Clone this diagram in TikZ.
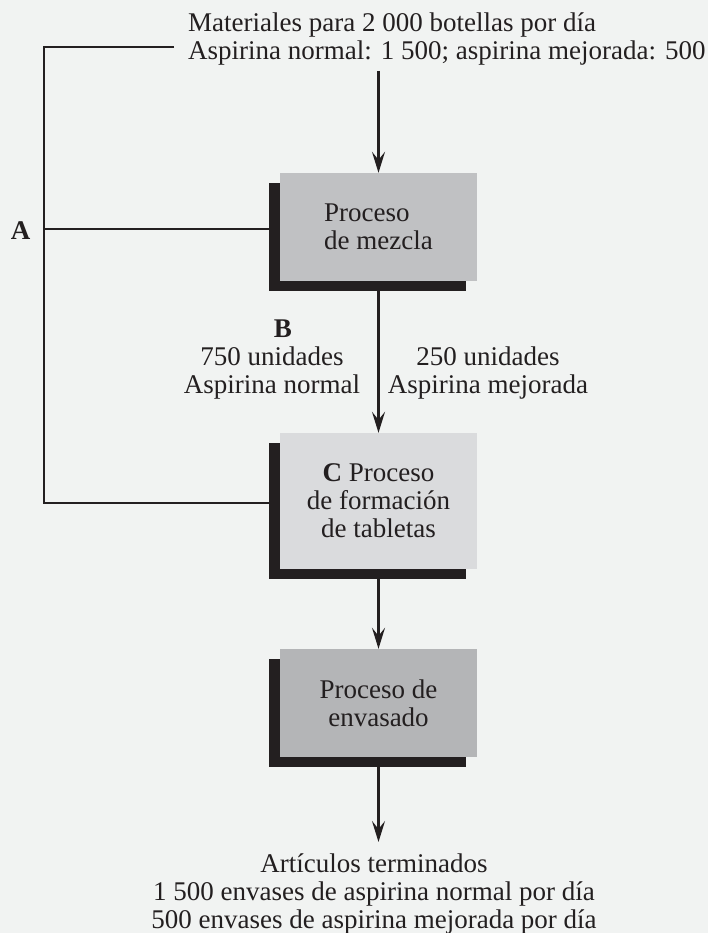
\documentclass[tikz,border=0pt]{standalone}
\usepackage{fontspec}
\setmainfont{Liberation Serif}
\usetikzlibrary{arrows.meta}
\definecolor{bg}{HTML}{F1F3F2}
\definecolor{ink}{HTML}{231F20}
\definecolor{graya}{HTML}{C0C1C3}
\definecolor{grayb}{HTML}{DADBDD}
\definecolor{grayc}{HTML}{B4B5B7}
\tikzset{
  txt/.style={font=\fontsize{27}{28}\selectfont, text=ink, inner sep=0pt},
  shadowbox/.style={fill=ink, draw=none, minimum width=197pt, inner sep=0pt},
  procbox/.style={txt, draw=none, minimum width=197pt, align=center},
  conn/.style={draw=ink, line width=2.6pt, line join=miter},
  arr/.style={draw=ink, line width=2.3pt, -{Stealth[length=21pt,width=13pt,inset=8pt]}},
}
\begin{document}
\begin{tikzpicture}[x=1pt,y=-1pt]
\useasboundingbox[fill=bg] (0,0) rectangle (708,933);
% shadows
\node[shadowbox, minimum height=108pt] (s1) at (367.5,237) {};
\node[shadowbox, minimum height=136pt] (s2) at (367.5,511) {};
\node[shadowbox, minimum height=108pt] (s3) at (367.5,713) {};
% process boxes
\node[procbox, fill=graya, minimum height=108pt, align=left] (g1) at (378.5,227) {Proceso\\de mezcla};
\node[procbox, fill=grayb, minimum height=136pt] (g2) at (378.5,501) {\textbf{C} Proceso\\de formación\\de tabletas};
\node[procbox, fill=grayc, minimum height=108pt] (g3) at (378.5,703) {Proceso de\\envasado};
% texts
\node[txt, align=left, anchor=base west] (top) at (188,60) {Materiales para 2 000 botellas por día\\Aspirina normal: 1 500; aspirina mejorada: 500};
\node[txt, font=\fontsize{27}{28}\bfseries] (A) at (20.5,231) {A};
\node[txt, font=\fontsize{27}{28}\bfseries, anchor=base] (B) at (283,337) {B};
\node[txt, align=center, anchor=base] (bl) at (272,393) {750 unidades\\Aspirina normal};
\node[txt, align=center, anchor=base] (br) at (488,393) {250 unidades\\Aspirina mejorada};
\node[txt, align=center, anchor=base] (fin) at (374,928) {Artículos terminados\\1 500 envases de aspirina normal por día\\500 envases de aspirina mejorada por día};
% coordinates
\coordinate (in) at (378.5,71);
\coordinate (out) at (378.5,842);
\coordinate (tl) at (174,47);
\coordinate (c1) at (44,47);
\coordinate (cA) at (44,229);
\coordinate (c2) at (44,503);
% connectors
\draw[conn] (tl) -- (c1) -- (c2) -- (s2.west |- c2);
\draw[conn] (cA) -- (s1.west |- cA);
\draw[arr] (in) -- (g1.north);
\draw[arr] (s1.south -| g1.north) -- (g2.north);
\draw[arr] (s2.south -| g2.north) -- (g3.north);
\draw[arr] (s3.south -| g3.north) -- (out);
\end{tikzpicture}
\end{document}
